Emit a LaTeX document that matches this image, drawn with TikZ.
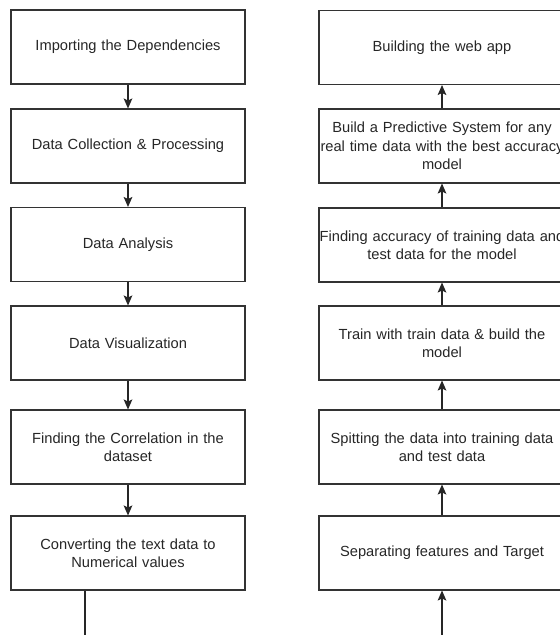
\documentclass[tikz,border=0pt]{standalone}
\usepackage{fontspec}
\setmainfont{Liberation Sans}
\usepackage{tikz}
\usetikzlibrary{arrows.meta}

\begin{document}
\begin{tikzpicture}[x=0.75pt, y=-0.75pt,
    stage/.style={draw=black!80, line width=0.8pt, text width=175.5pt,
      minimum height=55.5pt, inner sep=0pt, align=center, text=black!85,
      font=\fontsize{11}{13.7}\selectfont},
    wide stage/.style={stage, text width=184.5pt},
    flow/.style={draw=black!85, line width=0.8pt,
      -{Stealth[length=7.5pt,width=6.5pt,inset=1.5pt]}}]
  \useasboundingbox (0,0) rectangle (560,635);
  \clip (0,0) rectangle (560,635);
  % left column
  \node[stage] (imp) at (128,47) {Importing the Dependencies};
  \node[stage] (col) at (128,146) {Data Collection \& Processing};
  \node[stage] (ana) at (128,244.5) {Data Analysis};
  \node[stage] (vis) at (128,343) {Data Visualization};
  \node[stage] (cor) at (128,447) {Finding the Correlation in the\\dataset};
  \node[stage] (conv) at (128,553) {Converting the text data to\\Numerical values};
  % right column
  \node[wide stage] (web) at (442,47.5) {Building the web app};
  \node[wide stage] (pred) at (442,146) {Build a Predictive System for any\\\makebox[184.5pt]{real time data with the best accuracy}\\model};
  \node[wide stage] (acc) at (442,245) {\makebox[184.5pt]{Finding accuracy of training data and}\\test data for the model};
  \node[wide stage] (train) at (442,343) {Train with train data \& build the\\model};
  \node[wide stage] (split) at (442,447) {Spitting the data into training data\\and test data};
  \node[wide stage] (sep) at (442,553) {Separating features and Target};
  \draw[flow] (imp) -- (col);
  \draw[flow] (col) -- (ana);
  \draw[flow] (ana) -- (vis);
  \draw[flow] (vis) -- (cor);
  \draw[flow] (cor) -- (conv);
  \draw[flow] (pred) -- (web);
  \draw[flow] (acc) -- (pred);
  \draw[flow] (train) -- (acc);
  \draw[flow] (split) -- (train);
  \draw[flow] (sep) -- (split);
  % loose ends at the bottom
  \coordinate (lend) at (85,635);
  \coordinate (rbeg) at (442,635);
  \draw[draw=black!85, line width=0.8pt] (conv.south -| lend) -- (lend);
  \draw[flow] (rbeg) -- (sep);
\end{tikzpicture}
\end{document}
